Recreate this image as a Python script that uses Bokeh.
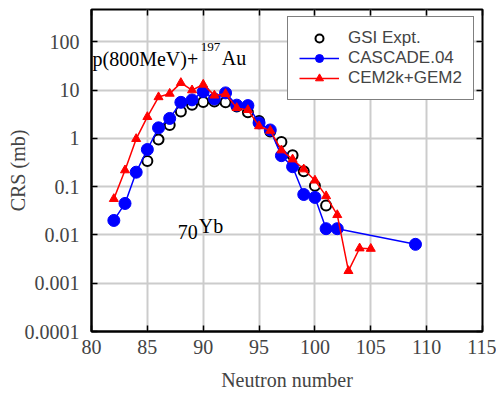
from bokeh.plotting import figure
from bokeh.models import (ColumnDataSource, FixedTicker, LinearAxis, LogAxis,
                          Legend, LegendItem, Label, Range1d)
from bokeh.embed import file_html
from bokeh.resources import INLINE

# ---------------- data ----------------
gsi_n = [85, 86, 87, 88, 89, 90, 91, 92, 93, 94, 95, 96, 97, 98, 99, 100, 101]
gsi_crs = [0.34, 0.95, 1.9, 3.6, 5.0, 5.7, 5.8, 5.6, 4.6, 3.5, 2.3, 1.4, 0.84, 0.45, 0.21, 0.105, 0.041]

cas_n = [82, 83, 84, 85, 86, 87, 88, 89, 90, 91, 92, 93, 94, 95, 96, 97, 98, 99, 100, 101, 102, 109]
cas_crs = [0.020, 0.045, 0.20, 0.59, 1.66, 2.6, 5.6, 6.3, 9.3, 6.6, 8.8, 4.9, 4.8, 2.1, 1.5, 0.44, 0.26,
           0.069, 0.060, 0.0135, 0.0135, 0.0064]

cem_n = [82, 83, 84, 85, 86, 87, 88, 89, 90, 91, 92, 93, 94, 95, 96, 97, 98, 99, 100, 101, 102, 103, 104, 105]
cem_crs = [0.056, 0.22, 0.98, 2.8, 7.2, 8.5, 14.2, 10.0, 13.1, 7.8, 8.4, 4.3, 3.9, 1.8, 1.45, 0.57, 0.37,
           0.23, 0.135, 0.064, 0.026, 0.0018, 0.0053, 0.0052]

x_ticks = [80, 85, 90, 95, 100, 105, 110, 115]
y_ticks = [0.0001, 0.001, 0.01, 0.1, 1, 10, 100]
y_tick_labels = ["0.0001", "0.001", "0.01", "0.1", "1", "10", "100"]

SERIF = "Liberation Serif"
SANS = "Liberation Sans"

p = figure(width=496, height=399, y_axis_type="log",
           x_range=Range1d(80, 115), y_range=Range1d(1e-4, 470),
           output_backend="svg", toolbar_location=None,
           min_border_left=91, min_border_right=14, min_border_top=9, min_border_bottom=68)

p.outline_line_color = "black"
p.outline_line_width = 2
p.background_fill_color = "white"

# grids
p.xgrid.ticker = FixedTicker(ticks=x_ticks)
p.ygrid.ticker = FixedTicker(ticks=y_ticks)
p.xgrid.grid_line_color = "#cccccc"
p.ygrid.grid_line_color = "#cccccc"
p.xgrid.grid_line_width = 2
p.ygrid.grid_line_width = 2

# bottom axis
xa = p.xaxis[0]
xa.ticker = FixedTicker(ticks=x_ticks)
xa.axis_label = "Neutron number"
xa.axis_label_text_font = SERIF
xa.axis_label_text_font_style = "normal"
xa.axis_label_text_font_size = "20px"
xa.axis_label_standoff = 12
xa.major_label_text_font = SERIF
xa.major_label_text_font_size = "20px"
xa.major_label_standoff = 8
xa.major_tick_in = 6
xa.major_tick_out = 0
xa.minor_tick_line_color = None
xa.axis_line_width = 2
xa.major_tick_line_width = 1.5

# left axis
ya = p.yaxis[0]
ya.ticker = FixedTicker(ticks=y_ticks)
ya.major_label_overrides = {t: s for t, s in zip(y_ticks, y_tick_labels)}
ya.axis_label = "CRS (mb)"
ya.axis_label_text_font = SERIF
ya.axis_label_text_font_style = "normal"
ya.axis_label_text_font_size = "20px"
ya.axis_label_standoff = -7
ya.major_label_text_font = SERIF
ya.major_label_text_font_size = "20px"
ya.major_label_standoff = 12
ya.major_tick_in = 6
ya.major_tick_out = 0
ya.minor_tick_line_color = None
ya.axis_line_width = 2
ya.major_tick_line_width = 1.5

# top & right tick-only axes (labels invisible, tiny)
top = LinearAxis(ticker=FixedTicker(ticks=x_ticks), major_label_text_font_size="1px",
                 major_label_text_color=None,
                 major_label_standoff=0, major_tick_in=6, major_tick_out=0,
                 minor_tick_line_color=None, axis_line_color=None, major_tick_line_width=1.5)
p.add_layout(top, "above")
right = LogAxis(ticker=FixedTicker(ticks=y_ticks), major_label_text_font_size="1px",
                major_label_text_color=None,
                major_label_standoff=0, major_tick_in=6, major_tick_out=0,
                minor_tick_line_color=None, axis_line_color=None, major_tick_line_width=1.5)
p.add_layout(right, "right")

# data renderers
gsi_src = ColumnDataSource(dict(x=gsi_n, y=gsi_crs))
cas_src = ColumnDataSource(dict(x=cas_n, y=cas_crs))
cem_src = ColumnDataSource(dict(x=cem_n, y=cem_crs))

r_gsi = p.scatter("x", "y", source=gsi_src, marker="circle", size=10,
                  fill_color="white", line_color="black", line_width=2)
r_cas_l = p.line("x", "y", source=cas_src, line_color="#0000ff", line_width=1.5)
r_cas_m = p.scatter("x", "y", source=cas_src, marker="circle", size=12,
                    fill_color="#0000ff", line_color="#0000ff")
r_cem_l = p.line("x", "y", source=cem_src, line_color="#ff0000", line_width=1.5)
r_cem_m = p.scatter("x", "y", source=cem_src, marker="triangle", size=9,
                    fill_color="#ff0000", line_color="#ff0000")

legend = Legend(items=[
    LegendItem(label="GSI Expt.", renderers=[r_gsi]),
    LegendItem(label="CASCADE.04", renderers=[r_cas_l, r_cas_m]),
    LegendItem(label="CEM2k+GEM2", renderers=[r_cem_l, r_cem_m]),
], location=(196, 231))
legend.label_text_font = SANS
legend.label_text_font_size = "17px"
legend.glyph_width = 40
legend.glyph_height = 20
legend.label_height = 20
legend.label_standoff = 9
legend.label_width = 114
legend.padding = 11
legend.spacing = 0
legend.margin = 0
legend.border_line_color = "black"
legend.border_line_width = 1.5
legend.background_fill_color = "white"
legend.background_fill_alpha = 1
p.add_layout(legend)

# annotations
def lab(x, y, text, size, align="left", units="data"):
    p.add_layout(Label(x=x, y=y, x_units=units, y_units=units, text=text,
                       text_font=SERIF, text_font_size=size,
                       text_baseline="alphabetic", text_align=align, text_color="black"))

lab(1, 273, "p(800MeV)+", "20px", units="screen")
lab(89.78, 78, "197", "13px")
lab(91.67, 47.5, "Au", "20px")
lab(87.72, 0.0113, "70", "20px")
lab(89.6, 0.0151, "Yb", "20px")

open("out.html", "w").write(file_html(p, INLINE))
